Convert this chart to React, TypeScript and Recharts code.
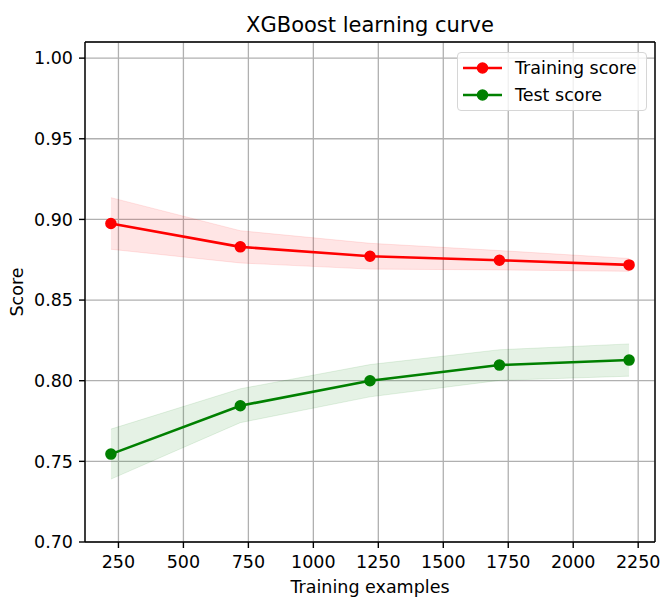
import React from 'react'
import {
  ComposedChart,
  Line,
  Area,
  XAxis,
  YAxis,
  CartesianGrid,
  Legend,
} from 'recharts'

const trainSizes = [221, 719, 1218, 1716, 2215]
const trainMean = [0.8975, 0.883, 0.8772, 0.8747, 0.8718]
const trainStd = [0.016, 0.01, 0.008, 0.006, 0.004]
const testMean = [0.7545, 0.7845, 0.8, 0.8097, 0.8128]
const testStd = [0.0155, 0.0105, 0.01, 0.0095, 0.01]

const seriesNames = ['Training score', 'Test score']
const xTicks = [250, 500, 750, 1000, 1250, 1500, 1750, 2000, 2250]
const yTicks = [0.7, 0.75, 0.8, 0.85, 0.9, 0.95, 1.0]

const FONT = '"DejaVu Sans", sans-serif'
const RED = '#ff0000'
const GREEN = '#008000'

const data = trainSizes.map((size, i) => ({
  size,
  train: trainMean[i],
  test: testMean[i],
  trainBand: [trainMean[i] - trainStd[i], trainMean[i] + trainStd[i]],
  testBand: [testMean[i] - testStd[i], testMean[i] + testStd[i]],
}))

// matplotlib-like 5% margins
const span = trainSizes[trainSizes.length - 1] - trainSizes[0]
const xDomain = [trainSizes[0] - span * 0.05, trainSizes[trainSizes.length - 1] + span * 0.05]
const yDomain = [0.7, 1.01]

const LegendBox = (props: any) => {
  const items = (props.payload || [])
    .filter((p: any) => p.type !== 'none')
    .sort((a: any, b: any) => seriesNames.indexOf(a.value) - seriesNames.indexOf(b.value))
  return (
    <div
      style={{
        width: 190,
        height: 59,
        boxSizing: 'border-box',
        border: '1px solid #d6d6d6',
        borderRadius: 4,
        background: 'rgba(255,255,255,0.8)',
        fontFamily: FONT,
        fontSize: 17.5,
        color: '#000',
        position: 'relative',
      }}
    >
      {items.map((item: any, i: number) => (
        <div
          key={item.value}
          style={{
            position: 'absolute',
            left: 0,
            top: 3 + i * 26.6,
            height: 24,
            display: 'flex',
            alignItems: 'center',
            whiteSpace: 'nowrap',
          }}
        >
          <svg width={57} height={24}>
            <line x1={5} x2={44} y1={12} y2={12} stroke={item.color} strokeWidth={2.6} />
            <circle cx={24.5} cy={12} r={5} fill={item.color} stroke={item.color} strokeWidth={1.5} />
          </svg>
          <span>{item.value}</span>
        </div>
      ))}
    </div>
  )
}

const App: React.FC = () => {
  const tickStyle = { fontFamily: FONT, fontSize: 17.5, fill: '#000' }
  const axisLine = { stroke: '#000', strokeWidth: 1.4 }
  return (
    <div>
      <style>{'html, body { margin: 0; overflow: hidden; }'}</style>
      <ComposedChart
        width={660}
        height={597}
        data={data}
        margin={{ top: 0, right: 0, bottom: 0, left: 0 }}
        style={{ fontFamily: FONT }}
      >
        <CartesianGrid stroke="#b0b0b0" strokeWidth={1.3} />
        <XAxis
          dataKey="size"
          type="number"
          domain={xDomain}
          ticks={xTicks}
          allowDataOverflow
          height={55}
          tickSize={6}
          tickMargin={8}
          tick={tickStyle}
          axisLine={axisLine}
          tickLine={axisLine}
          interval={0}
          label={(p: any) => (
            <text
              x={p.viewBox.x + p.viewBox.width / 2}
              y={593}
              textAnchor="middle"
              fontFamily={FONT}
              fontSize={17.5}
              fill="#000"
            >
              Training examples
            </text>
          )}
        />
        <XAxis
          xAxisId="top"
          orientation="top"
          dataKey="size"
          type="number"
          domain={xDomain}
          allowDataOverflow
          height={42}
          tick={false}
          tickLine={false}
          axisLine={axisLine}
          label={(p: any) => (
            <text
              x={p.viewBox.x + p.viewBox.width / 2}
              y={31.5}
              textAnchor="middle"
              fontFamily={FONT}
              fontSize={21}
              fill="#000"
            >
              XGBoost learning curve
            </text>
          )}
        />
        <YAxis
          type="number"
          domain={yDomain}
          ticks={yTicks}
          allowDataOverflow
          width={85}
          tickSize={6}
          tickMargin={6}
          tick={tickStyle}
          axisLine={axisLine}
          tickLine={axisLine}
          interval={0}
          tickFormatter={(v: number) => v.toFixed(2)}
          label={(p: any) => {
            const cy = p.viewBox.y + p.viewBox.height / 2
            return (
              <text
                x={23}
                y={cy}
                transform={`rotate(-90, 23, ${cy})`}
                textAnchor="middle"
                fontFamily={FONT}
                fontSize={17.5}
                fill="#000"
              >
                Score
              </text>
            )
          }}
        />
        <YAxis
          yAxisId="right"
          orientation="right"
          type="number"
          domain={yDomain}
          allowDataOverflow
          width={5}
          tick={false}
          tickLine={false}
          axisLine={axisLine}
        />
        <Area
          dataKey="trainBand"
          stroke={RED}
          strokeOpacity={0.1}
          fill={RED}
          fillOpacity={0.1}
          legendType="none"
          isAnimationActive={false}
          dot={false}
          activeDot={false}
        />
        <Area
          dataKey="testBand"
          stroke={GREEN}
          strokeOpacity={0.1}
          fill={GREEN}
          fillOpacity={0.1}
          legendType="none"
          isAnimationActive={false}
          dot={false}
          activeDot={false}
        />
        <Line
          dataKey="train"
          name="Training score"
          stroke={RED}
          strokeWidth={2.6}
          dot={{ r: 5, fill: RED, stroke: RED, strokeWidth: 1.5 }}
          activeDot={false}
          isAnimationActive={false}
        />
        <Line
          dataKey="test"
          name="Test score"
          stroke={GREEN}
          strokeWidth={2.6}
          dot={{ r: 5, fill: GREEN, stroke: GREEN, strokeWidth: 1.5 }}
          activeDot={false}
          isAnimationActive={false}
        />
        <Legend
          layout="horizontal"
          verticalAlign="middle"
          align="center"
          content={<LegendBox />}
          wrapperStyle={{ left: 457, top: 52, width: 190, height: 59 }}
        />
      </ComposedChart>
    </div>
  )
}

export default App
